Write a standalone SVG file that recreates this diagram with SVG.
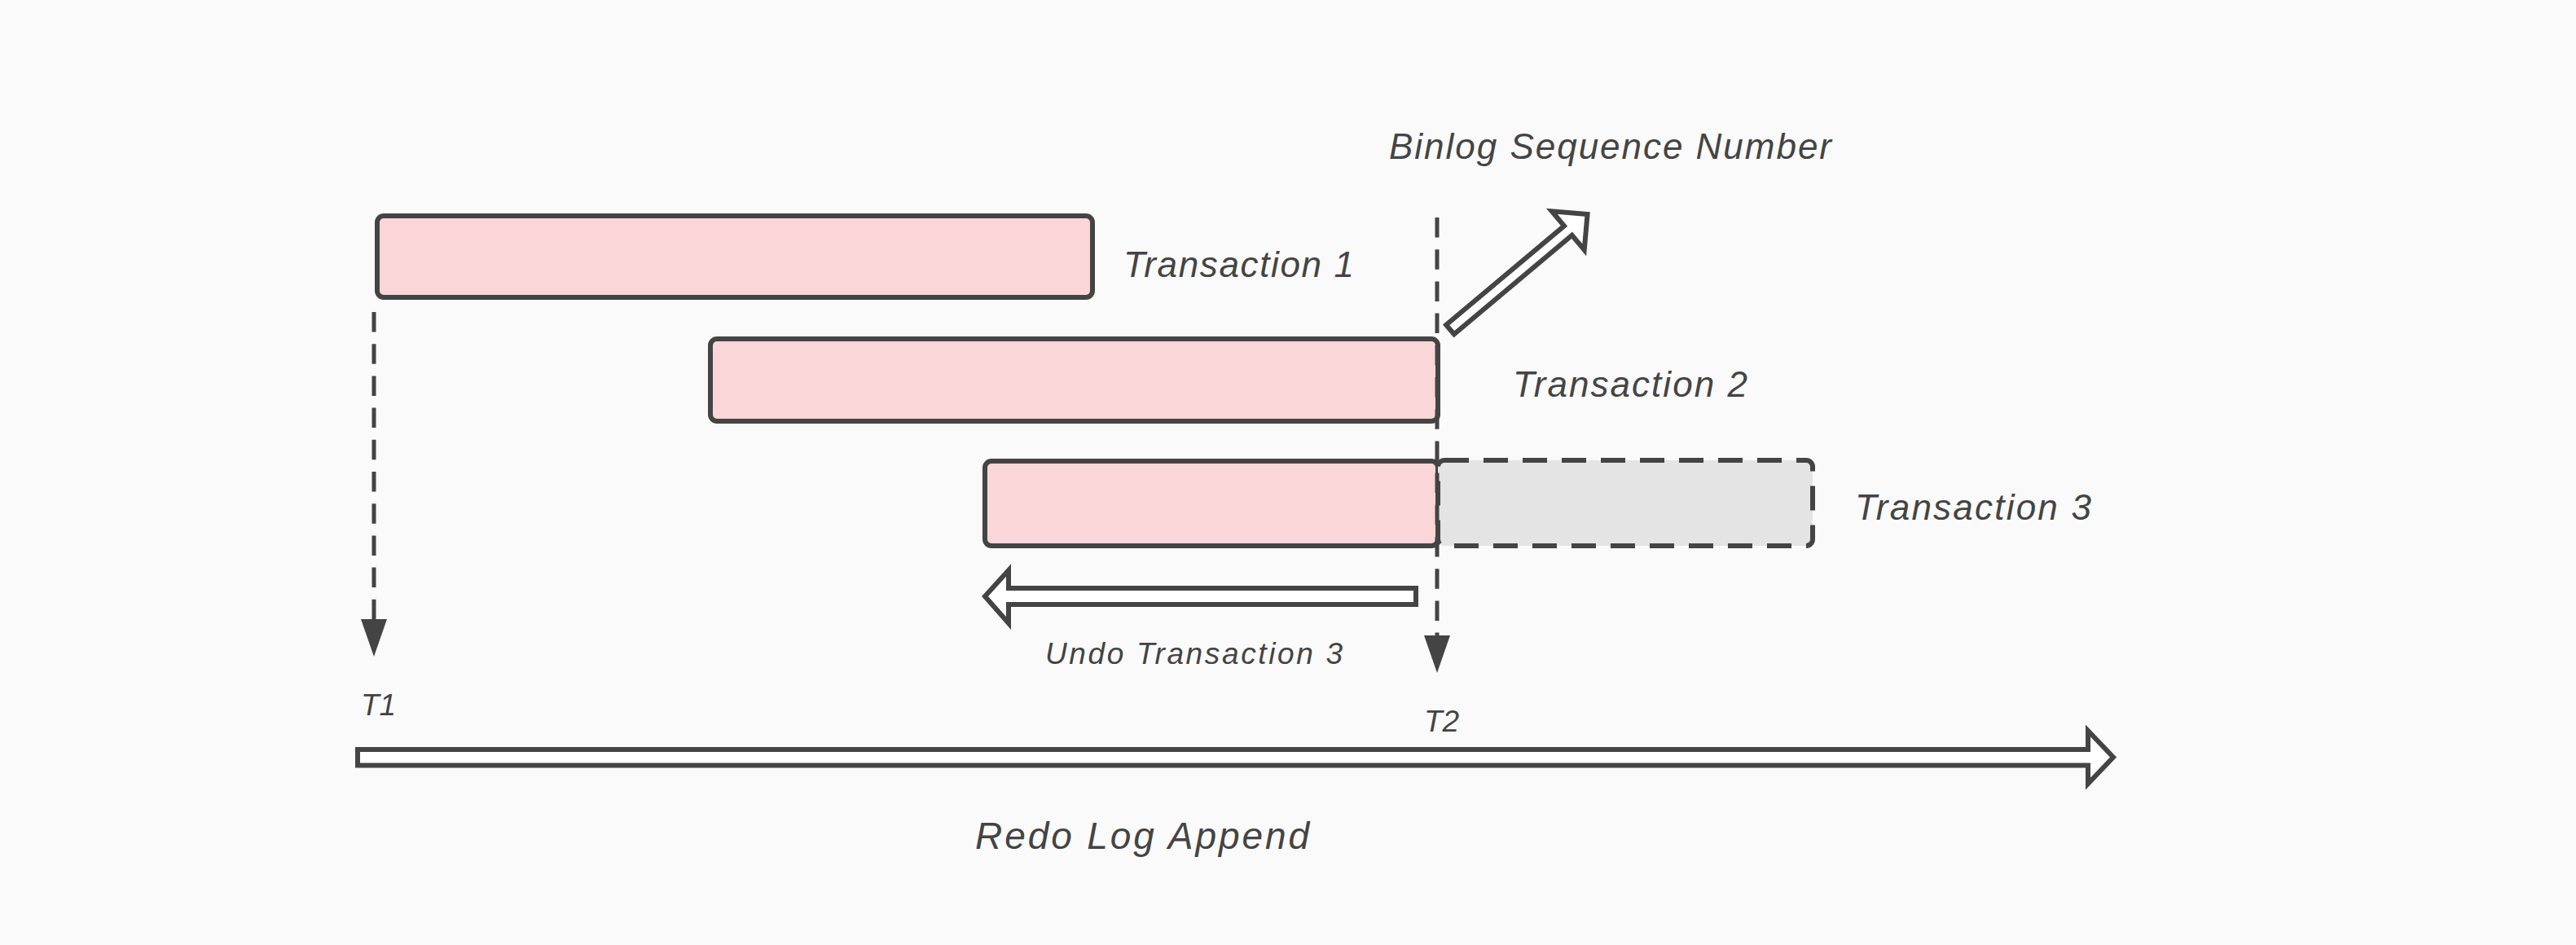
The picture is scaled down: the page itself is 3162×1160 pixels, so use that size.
<svg xmlns="http://www.w3.org/2000/svg" width="3162" height="1160" viewBox="0 0 3162 1160">
  <style>
    .bg { fill: #fafafa; }
    .tx { fill: #fad6d9; stroke: #444444; stroke-width: 6; }
    .undone { fill: #e4e4e4; stroke: #444444; stroke-width: 6; stroke-dasharray: 30 18; }
    .lbl { font-family: "Liberation Sans", Arial, sans-serif; font-style: italic; fill: #444444; }
    .big { font-size: 44px; }
    .small { font-size: 37px; }
    .redo { font-size: 46px; }
    .dash { fill: none; stroke: #444444; stroke-width: 5; stroke-dasharray: 24.5 14.7; }
    .block { fill: #ffffff; stroke: #444444; stroke-width: 6; stroke-linejoin: miter; }
  </style>
  <defs>
    <marker id="tri" markerUnits="userSpaceOnUse" markerWidth="46" markerHeight="32" viewBox="0 0 46 32" refX="0" refY="16" orient="auto">
      <path d="M0,0 L46,16 L0,32 z" fill="#444444"/>
    </marker>
  </defs>
  <rect class="bg" x="0" y="0" width="3162" height="1160"/>

  <g id="transaction1">
    <rect class="tx" x="463" y="265" width="878" height="100" rx="8" ry="8"/>
    <text class="lbl big" x="1379" y="340" textLength="283" lengthAdjust="spacing">Transaction 1</text>
  </g>

  <g id="transaction2">
    <rect class="tx" x="872" y="416" width="893" height="101" rx="8" ry="8"/>
    <text class="lbl big" x="1857" y="487" textLength="288" lengthAdjust="spacing">Transaction 2</text>
  </g>

  <g id="transaction3">
    <rect class="tx" x="1209" y="566" width="556" height="104" rx="8" ry="8"/>
    <rect class="undone" x="1765" y="565" width="460" height="105" rx="8" ry="8"/>
    <text class="lbl big" x="2277" y="638" textLength="290" lengthAdjust="spacing">Transaction 3</text>
  </g>

  <g id="binlog-label">
    <text class="lbl big" x="1705" y="195" textLength="543" lengthAdjust="spacing">Binlog Sequence Number</text>
  </g>

  <g id="undo-label">
    <text class="lbl small" x="1283" y="815" textLength="365" lengthAdjust="spacing">Undo Transaction 3</text>
  </g>

  <g id="t1-label">
    <text class="lbl small" x="443" y="878">T1</text>
  </g>

  <g id="t2-label">
    <text class="lbl small" x="1748" y="898">T2</text>
  </g>

  <g id="redo-label">
    <text class="lbl redo" x="1197" y="1042" textLength="410" lengthAdjust="spacing">Redo Log Append</text>
  </g>

  <g id="connectors">
    <line class="dash" x1="459" y1="383" x2="459" y2="760" marker-end="url(#tri)"/>
    <line class="dash" x1="1764" y1="267" x2="1764" y2="780" marker-end="url(#tri)"/>
    <polygon class="block" transform="translate(1780,404.5) rotate(-40)" points="0,-7.5 189,-7.5 189,-31 220,0 189,31 189,7.5 0,7.5"/>
    <polygon class="block" points="1209,732 1238,700 1238,722 1738,722 1738,742 1238,742 1238,765"/>
    <polygon class="block" points="439,920 2563,920 2563,897 2594,929.5 2563,962 2563,939.5 439,939.5"/>
  </g>
</svg>
